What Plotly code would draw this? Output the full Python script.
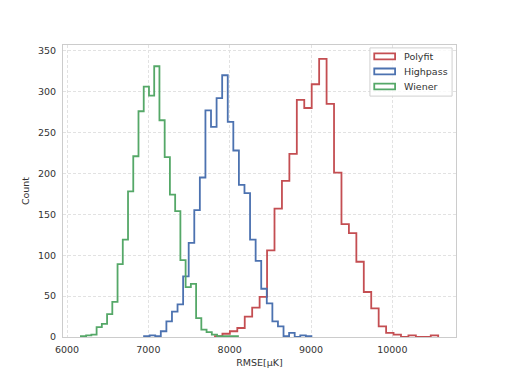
import numpy as np
import plotly.graph_objects as go

# Histogramm-Daten (30 Bins je Methode)
polyfit_start = 7819
polyfit_width = 91.5
polyfit_counts = [1, 4, 7, 11, 25, 36, 49, 106, 157, 191, 224, 290, 280, 309, 340,
                  285, 201, 138, 127, 92, 55, 35, 13, 5, 3, 0, 2, 0, 0, 2]

highpass_start = 6947
highpass_width = 68.6
highpass_counts = [1, 2, 1, 7, 19, 31, 40, 74, 115, 155, 195, 277, 257, 292, 320,
                   263, 228, 186, 176, 119, 93, 59, 41, 19, 13, 1, 5, 0, 2, 1]

wiener_start = 6170
wiener_width = 64.4
wiener_counts = [1, 2, 3, 12, 16, 28, 43, 89, 119, 178, 221, 276, 306, 295, 331,
                 265, 220, 174, 154, 94, 61, 65, 23, 9, 6, 3, 1, 1, 1, 1]

names = ["Polyfit", "Highpass", "Wiener"]
colors = ["#C44E52", "#4C72B0", "#55A868"]

x_ticks = [6000, 7000, 8000, 9000, 10000]
y_ticks = [0, 50, 100, 150, 200, 250, 300, 350]


def step_outline(start, width, counts):
    # Umriss wie matplotlib histtype='step'
    edges = start + width * np.arange(len(counts) + 1)
    xs, ys = [edges[0]], [0]
    for i, c in enumerate(counts):
        xs += [edges[i], edges[i + 1]]
        ys += [c, c]
    xs.append(edges[-1])
    ys.append(0)
    return xs, ys


series = [
    (polyfit_start, polyfit_width, polyfit_counts),
    (highpass_start, highpass_width, highpass_counts),
    (wiener_start, wiener_width, wiener_counts),
]

fig = go.Figure()
for (start, width, counts), name, col in zip(series, names, colors):
    xs, ys = step_outline(start, width, counts)
    fig.add_trace(go.Scatter(
        x=xs, y=ys,
        mode="lines",
        line=dict(color=col, width=1.8),
        name=name,
        showlegend=False,
        hoverinfo="skip",
    ))

font = dict(family="DejaVu Sans", size=9.5, color="#333333")

# Legende wie bei matplotlib (Rechtecke mit farbigem Rand)
fig.add_shape(type="rect", xref="x domain", yref="y domain",
              x0=0.781, x1=0.990, y0=0.825, y1=0.990,
              line=dict(color="#d0d0d0", width=1), fillcolor="rgba(255,255,255,0.8)")
for k, (name, col) in enumerate(zip(names, colors)):
    yc = 0.961 - k * 0.0515
    fig.add_shape(type="rect", xref="x domain", yref="y domain",
                  x0=0.792, x1=0.845, y0=yc - 0.010, y1=yc + 0.010,
                  line=dict(color=col, width=1.8), fillcolor="rgba(0,0,0,0)")
    fig.add_annotation(xref="x domain", yref="y domain", x=0.862, y=yc,
                       text=name, showarrow=False, xanchor="left", yanchor="middle",
                       font=font)

fig.update_layout(
    width=506, height=379,
    # Body-Rand von 8px im Browser ausgleichen
    margin=dict(l=55, r=58, t=37, b=50),
    paper_bgcolor="white",
    plot_bgcolor="white",
    font=font,
    showlegend=False,
    xaxis=dict(
        range=[5950, 10783],
        tickvals=x_ticks, ticktext=[str(v) for v in x_ticks],
        showgrid=True, gridcolor="#e2e2e2", griddash="3px,2px", gridwidth=0.8,
        showline=True, linecolor="#cccccc", linewidth=1, mirror=True,
        ticks="", zeroline=False, automargin=False,
        ticklabelstandoff=4,
        title=dict(text="RMSE[μK]", font=font, standoff=4),
    ),
    yaxis=dict(
        range=[0, 357],
        tickvals=y_ticks,
        showgrid=True, gridcolor="#e2e2e2", griddash="3px,2px", gridwidth=0.8,
        showline=True, linecolor="#cccccc", linewidth=1, mirror=True,
        ticks="", zeroline=False, automargin=False,
        ticklabelstandoff=4,
        title=dict(text="Count", font=font, standoff=6),
    ),
)

fig.write_html("out.html")
